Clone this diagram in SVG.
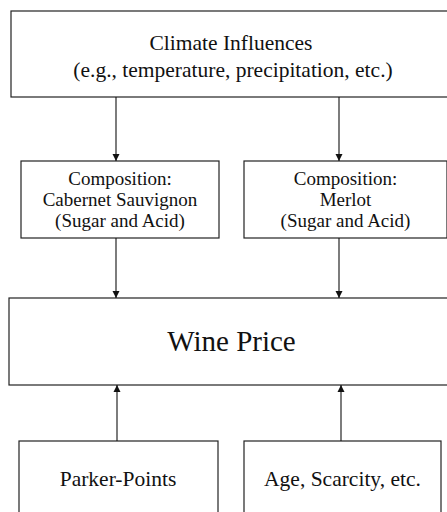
<svg xmlns="http://www.w3.org/2000/svg" width="447" height="512" viewBox="0 0 447 512">
<style>
.box{fill:#fff;stroke:#222;stroke-width:1.2}
.t{font-family:"Liberation Serif","Times New Roman",serif;fill:#111;text-anchor:middle}
.c{stroke:#111;stroke-width:1.1;fill:none}
</style>
<defs>
<marker id="ah" viewBox="0 0 10 10" refX="10" refY="5" markerWidth="7" markerHeight="12" markerUnits="userSpaceOnUse" orient="auto">
<path d="M0,0 L10,5 L0,10 Z" fill="#111"/>
</marker>
</defs>
<rect width="447" height="512" fill="#fff"/>
<g id="climate">
<rect class="box" x="11" y="11" width="450" height="86"/>
<text class="t" x="231" y="50" font-size="21.5">Climate Influences</text>
<text class="t" x="233" y="77" font-size="21.5">(e.g., temperature, precipitation, etc.)</text>
</g>
<g id="cabernet">
<rect class="box" x="21" y="161" width="198" height="77"/>
<text class="t" x="120" y="185" font-size="19">Composition:</text>
<text class="t" x="120" y="206" font-size="19">Cabernet Sauvignon</text>
<text class="t" x="120" y="226.5" font-size="19">(Sugar and Acid)</text>
</g>
<g id="merlot">
<rect class="box" x="244" y="161" width="203" height="77"/>
<text class="t" x="345.5" y="185" font-size="19">Composition:</text>
<text class="t" x="345.5" y="206" font-size="19">Merlot</text>
<text class="t" x="345.5" y="226.5" font-size="19">(Sugar and Acid)</text>
</g>
<g id="wineprice">
<rect class="box" x="9" y="298" width="450" height="87"/>
<text class="t" x="231.5" y="351" font-size="29">Wine Price</text>
</g>
<g id="parker">
<rect class="box" x="19" y="441" width="199" height="80"/>
<text class="t" x="118" y="486" font-size="21.5">Parker-Points</text>
</g>
<g id="age">
<rect class="box" x="244" y="441" width="197" height="80"/>
<text class="t" x="342.5" y="486" font-size="21.5">Age, Scarcity, etc.</text>
</g>
<g id="connectors">
<line class="c" x1="116" y1="97" x2="116" y2="161" marker-end="url(#ah)"/>
<line class="c" x1="339" y1="97" x2="339" y2="161" marker-end="url(#ah)"/>
<line class="c" x1="116" y1="238" x2="116" y2="298" marker-end="url(#ah)"/>
<line class="c" x1="339" y1="238" x2="339" y2="298" marker-end="url(#ah)"/>
<line class="c" x1="117" y1="441" x2="117" y2="385" marker-end="url(#ah)"/>
<line class="c" x1="341" y1="441" x2="341" y2="385" marker-end="url(#ah)"/>
</g>
</svg>
